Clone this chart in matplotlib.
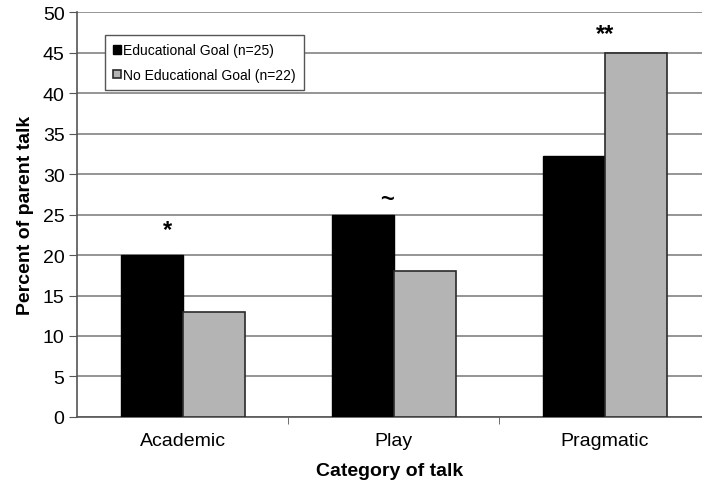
import numpy as np
import matplotlib
matplotlib.use("Agg")
from matplotlib import pyplot as plt

# data
categories = ["Academic", "Play", "Pragmatic"]
edu_goal = [20, 25, 32.2]
no_edu_goal = [13, 18, 45]
labels = ["Educational Goal (n=25)", "No Educational Goal (n=22)"]
marks = ["*", "~", "**"]
mark_pos = [(-0.07, 23.2), (-0.03, 27.0), (0.0, 47.3)]

plt.rcParams['font.family'] = ['Liberation Sans', 'DejaVu Sans']

fig = plt.figure(figsize=(7.02, 4.89), dpi=100)
ax = fig.add_axes([0.1097, 0.1452, 0.8903, 0.8282])

x = np.arange(len(categories))
w = 0.294
ax.bar(x - w / 2, edu_goal, w, color="black", edgecolor="black", linewidth=1,
       label=labels[0], zorder=3)
ax.bar(x + w / 2, no_edu_goal, w, color="#b4b4b4", edgecolor="#2a2a2a", linewidth=1.2,
       label=labels[1], zorder=3)

for i, (dx, y) in enumerate(mark_pos):
    ax.text(x[i] + dx, y, marks[i], ha="center", va="center", fontsize=17,
            fontweight="bold", zorder=4)

ax.set_xlim(-0.5, 2.46)
ax.set_ylim(0, 50)
ax.set_yticks(np.arange(0, 51, 5))
ax.yaxis.grid(True, color="#8c8c8c", linewidth=1.3, zorder=0)
ax.set_axisbelow(True)

ax.set_xticks(x)
ax.set_xticklabels(categories, fontsize=14)
ax.set_xticks([0.5, 1.5], minor=True)
ax.tick_params(axis="x", which="major", length=0, pad=11)
ax.tick_params(axis="x", which="minor", length=5, color="#555555", direction="out")
ax.tick_params(axis="y", labelsize=14, length=6, color="#555555", pad=3)

for s in ["top", "right"]:
    ax.spines[s].set_visible(False)
ax.spines["left"].set_color("#555555")
ax.spines["bottom"].set_color("#555555")
ax.spines["left"].set_linewidth(1.2)
ax.spines["bottom"].set_linewidth(1.2)

ax.set_xlabel("Category of talk", fontsize=14, fontweight="bold", labelpad=9)
ax.set_ylabel("Percent of parent talk", fontsize=14, fontweight="bold", labelpad=6)

leg = ax.legend(loc="upper left", bbox_to_anchor=(0.033, 0.96), fontsize=10,
                frameon=True, fancybox=False, edgecolor="#555555", framealpha=1,
                handlelength=0.55, handleheight=0.55, handletextpad=0.15,
                labelspacing=0.75, borderpad=0.6)
leg.get_frame().set_linewidth(1.0)

fig.savefig("out.png", dpi=100)
